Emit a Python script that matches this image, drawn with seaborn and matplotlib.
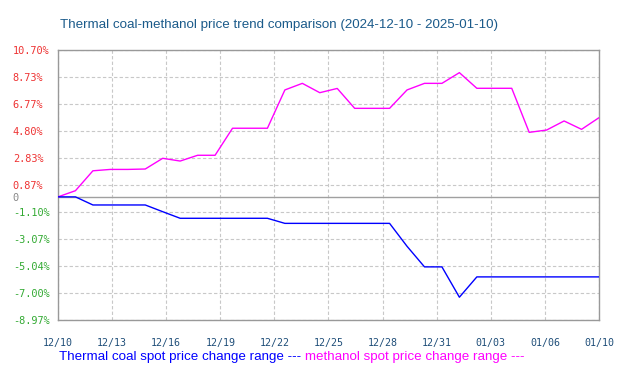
import numpy as np
import pandas as pd
import matplotlib
matplotlib.use("Agg")
import matplotlib.pyplot as plt
import seaborn as sns

dates = pd.date_range("2024-12-10", "2025-01-10", freq="D")
coal = [0.0, 0.0, -0.59, -0.59, -0.59, -0.59, -1.08, -1.56, -1.56, -1.56,
        -1.56, -1.56, -1.56, -1.93, -1.93, -1.93, -1.93, -1.93, -1.93, -1.93,
        -3.6, -5.1, -5.1, -7.31, -5.83, -5.83, -5.83, -5.83, -5.83, -5.83,
        -5.83, -5.83]
methanol = [0.0, 0.45, 1.9, 2.0, 2.0, 2.03, 2.81, 2.61, 3.03, 3.03,
            5.0, 5.0, 5.0, 7.79, 8.27, 7.59, 7.9, 6.45, 6.45, 6.45,
            7.79, 8.27, 8.27, 9.05, 7.91, 7.91, 7.91, 4.70, 4.87, 5.53,
            4.92, 5.77]
x_labels = ["12/10", "12/13", "12/16", "12/19", "12/22", "12/25",
            "12/28", "12/31", "01/03", "01/06", "01/10"]
y_ticks = [10.70, 8.73, 6.77, 4.80, 2.83, 0.87, -1.10, -3.07, -5.04, -7.00, -8.97]

df = pd.DataFrame({"date": dates, "coal": coal, "methanol": methanol})
df["idx"] = np.arange(len(df))

sns.set_style("white")
fig = plt.figure(figsize=(6.29, 3.78), dpi=100)
ax = fig.add_axes([58 / 629, 1 - 320 / 378, 541 / 629, 270 / 378])

ax.axhline(0, color="#a0a0a0", lw=1, zorder=1)
sns.lineplot(data=df, x="idx", y="methanol", color="#ff00ff", lw=1, ax=ax, zorder=3)
sns.lineplot(data=df, x="idx", y="coal", color="#0000ff", lw=1, ax=ax, zorder=3)

ax.set_xlim(0, len(df) - 1)
ax.set_ylim(min(y_ticks), max(y_ticks))

# labels are spread evenly along the axis, not pinned to dates
xt = np.linspace(0, len(df) - 1, len(x_labels))
ax.set_xticks(xt)
ax.set_xticklabels(x_labels, family="DejaVu Sans Mono", fontsize=7.2, color="#1f4e79")
ax.tick_params(axis="x", length=0, pad=13)

ax.set_yticks(y_ticks + [0])
ylabs = [f"{v:.2f}%" for v in y_ticks] + ["0"]
ax.set_yticklabels(ylabs, family="DejaVu Sans Mono", fontsize=7.4)
ax.tick_params(axis="y", length=0, pad=32.5)
for lab, v in zip(ax.get_yticklabels(), y_ticks + [0]):
    lab.set_horizontalalignment("left")
    if v > 0:
        lab.set_color("#ee3333")
    elif v < 0:
        lab.set_color("#33aa33")
    else:
        lab.set_color("#888888")

for v in y_ticks:
    ax.axhline(v, color="#c8c8c8", lw=0.8, ls=(0, (3, 2)), zorder=0)
for v in xt:
    ax.axvline(v, color="#c8c8c8", lw=0.8, ls=(0, (3, 2)), zorder=0)

for s in ax.spines.values():
    s.set_color("#999999")
    s.set_linewidth(1)
ax.set_xlabel("")
ax.set_ylabel("")

fig.text(60 / 629, 1 - 25 / 378,
         "Thermal coal-methanol price trend comparison (2024-12-10 - 2025-01-10)",
         family="Liberation Sans", fontsize=9.6, color="#1a5a8a", va="center")

t1 = fig.text(59 / 629, 1 - 357 / 378, "Thermal coal spot price change range --- ",
              family="Liberation Sans", fontsize=9.65, color="#0000ff", va="center")
fig.canvas.draw()
bb = t1.get_window_extent()
fig.text(bb.x1 / fig.bbox.width, 1 - 357 / 378, "methanol spot price change range ---",
         family="Liberation Sans", fontsize=9.65, color="#ff00ff", va="center")

fig.savefig("out.png", dpi=100)
